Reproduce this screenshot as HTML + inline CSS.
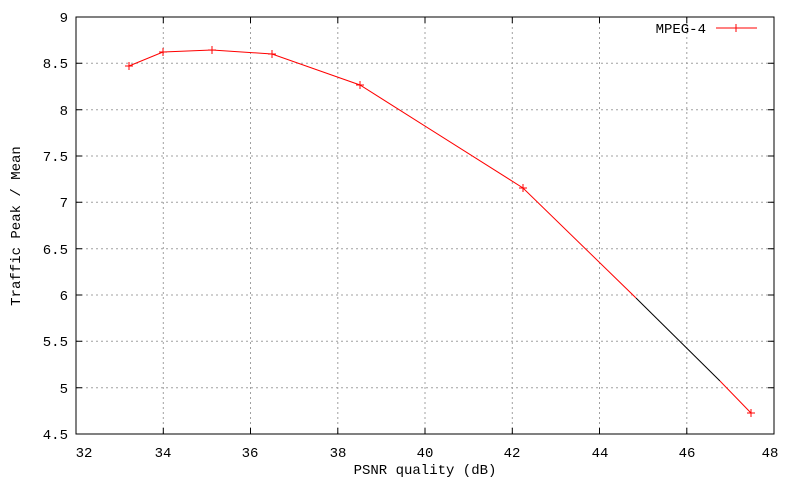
<!DOCTYPE html>
<html><head><style>body{margin:0;background:#fff}svg text{font-family:"Liberation Mono",monospace;font-size:14px}</style></head><body>
<svg width="800" height="480" xmlns="http://www.w3.org/2000/svg">
<g stroke="#a0a0a0" stroke-dasharray="2,3" stroke-width="1">
<line x1="76" y1="387.7" x2="774" y2="387.7"/><line x1="76" y1="341.3" x2="774" y2="341.3"/><line x1="76" y1="295" x2="774" y2="295"/><line x1="76" y1="248.7" x2="774" y2="248.7"/><line x1="76" y1="202.3" x2="774" y2="202.3"/><line x1="76" y1="156" x2="774" y2="156"/><line x1="76" y1="109.7" x2="774" y2="109.7"/><line x1="76" y1="63.3" x2="774" y2="63.3"/>
<line x1="163.3" y1="17" x2="163.3" y2="434"/><line x1="250.5" y1="17" x2="250.5" y2="434"/><line x1="337.8" y1="17" x2="337.8" y2="434"/><line x1="425" y1="17" x2="425" y2="434"/><line x1="512.3" y1="17" x2="512.3" y2="434"/><line x1="599.5" y1="17" x2="599.5" y2="434"/><line x1="686.8" y1="17" x2="686.8" y2="434"/>
</g>
<g stroke="#000">
<path d="M76 387.7h6M76 341.3h6M76 295h6M76 248.7h6M76 202.3h6M76 156h6M76 109.7h6M76 63.3h6M774 387.7h-6M774 341.3h-6M774 295h-6M774 248.7h-6M774 202.3h-6M774 156h-6M774 109.7h-6M774 63.3h-6"/>
<path d="M163.3 434v-6M250.5 434v-6M337.8 434v-6M425 434v-6M512.3 434v-6M599.5 434v-6M686.8 434v-6M163.3 17v6M250.5 17v6M337.8 17v6M425 17v6M512.3 17v6M599.5 17v6M686.8 17v6"/>
</g>
<rect x="76" y="17" width="698" height="417" fill="none" stroke="#000"/>
<g font-size="14" text-anchor="end">
<text x="68" y="439">4.5</text><text x="68" y="393">5</text><text x="68" y="346">5.5</text><text x="68" y="300">6</text><text x="68" y="254">6.5</text><text x="68" y="207">7</text><text x="68" y="161">7.5</text><text x="68" y="115">8</text><text x="68" y="68">8.5</text><text x="68" y="22">9</text>
</g>
<g text-anchor="middle">
<text x="84" y="457">32</text><text x="163" y="457">34</text><text x="250" y="457">36</text><text x="338" y="457">38</text><text x="425" y="457">40</text><text x="512" y="457">42</text><text x="600" y="457">44</text><text x="687" y="457">46</text><text x="770" y="457">48</text>
<text x="425" y="474">PSNR quality (dB)</text>
<text transform="translate(20,226) rotate(-90)">Traffic Peak / Mean</text>
</g>
<text x="706" y="33" text-anchor="end">MPEG-4</text>
<line x1="716" y1="28" x2="757" y2="28" stroke="red"/><line x1="736" y1="24" x2="736" y2="32" stroke="red"/>
<polyline points="129,66 163,52 212,50 272,54 360,85 523,188 636,298" fill="none" stroke="red"/>
<polyline points="636,298 720,381" fill="none" stroke="#000"/>
<polyline points="720,381 751,413" fill="none" stroke="red"/>
<g stroke="red">
<path d="M125 66h8M129 62v8M159 52h8M163 48v8M208 50h8M212 46v8M268 54h8M272 50v8M356 85h8M360 81v8M519 188h8M523 184v8M747 413h8M751 409v8"/>
</g>
</svg>
</body></html>
